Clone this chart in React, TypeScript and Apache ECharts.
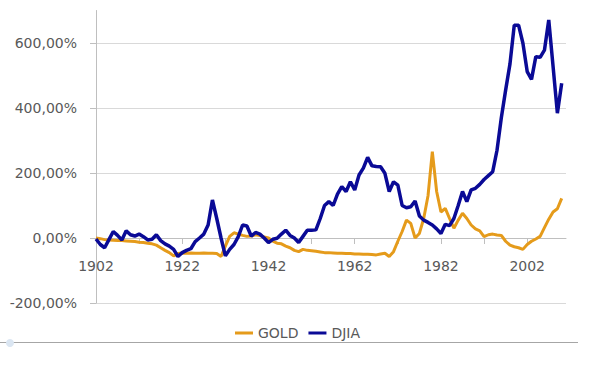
import React, { useEffect, useRef } from 'react';
import * as echarts from 'echarts';

// Categories 1902..2011
const years: string[] = [];
for (let y = 1902; y <= 2011; y++) years.push(String(y));

// GOLD, % change (1902..2010)
const gold: number[] = [
  0, -2, -5, -6, -7, -8, -8, -9, // 1902-1909
  -10, -11, -13, -14, -16, -18, -22, -30, -38, -45, // 1910-1919
  -55, -48, -46, -47, -46, -47, -47, -46, -47, -47, // 1920-1929
  -48, -57, -25, 5, 16, 12, 8, 5, 6, 10, // 1930-1939
  8, 3, 0, -10, -16, -18, -25, -30, -38, -42, // 1940-1949
  -35, -38, -39, -41, -43, -45, -45, -46, -47, -47, // 1950-1959
  -48, -48, -49, -49, -50, -50, -51, -52, -49, -47, // 1960-1969
  -57, -42, -10, 20, 55, 45, 0, 14, 60, 130, // 1970-1979
  266, 143, 80, 91, 60, 30, 55, 76, 60, 40, // 1980-1989
  28, 22, 4, 10, 12, 9, 8, -10, -22, -27, // 1990-1999
  -30, -35, -20, -10, -3, 5, 32, 58, 80, 90, // 2000-2009
  122, // 2010
];

// DJIA, % change (1902..2010)
const djia: number[] = [
  -3, -20, -30, -5, 20, 8, -6, 22, // 1902-1909
  10, 6, 12, 4, -6, -4, 10, -8, -18, -25, // 1910-1919
  -35, -57, -45, -38, -33, -11, 0, 12, 40, 117, // 1920-1929
  60, 0, -55, -35, -20, 4, 40, 37, 6, 17, // 1930-1939
  12, 0, -14, -4, -1, 12, 24, 8, 0, -14, // 1940-1949
  5, 24, 24, 25, 60, 100, 112, 100, 135, 158, // 1950-1959
  143, 173, 148, 194, 215, 248, 222, 220, 219, 199, // 1960-1969
  143, 173, 163, 100, 93, 96, 114, 68, 55, 48, // 1970-1979
  40, 28, 14, 42, 38, 60, 100, 143, 112, 148, // 1980-1989
  153, 165, 180, 192, 204, 270, 370, 455, 535, 655, // 1990-1999
  655, 600, 512, 488, 558, 556, 578, 671, 528, 384, // 2000-2009
  476, // 2010
];

const seriesNames = ['GOLD', 'DJIA'];
const seriesColors = ['#E59B1B', '#0A0A96'];

export default function App() {
  const ref = useRef<HTMLDivElement>(null);
  useEffect(() => {
    if (!ref.current) return;
    const chart = echarts.init(ref.current, null, { renderer: 'svg' });
    const font = 'DejaVu Sans';
    const txt = '#595959';
    chart.setOption({
      animation: false,
      backgroundColor: '#ffffff',
      grid: [
        // data grid: -200..700
        { left: 96, right: 29, top: 10.5, bottom: 81 },
        // gridline / y-label grid: -200..600
        { left: 96, right: 29, top: 43, bottom: 81 },
        // x-axis grid whose bottom sits on the 0 line
        { left: 96, right: 29, top: 10.5, bottom: 146 },
      ],
      xAxis: [
        { type: 'category', gridIndex: 0, data: years, boundaryGap: false, show: false },
        { type: 'category', gridIndex: 1, data: years, boundaryGap: false, show: false },
        {
          type: 'category',
          gridIndex: 2,
          data: years,
          boundaryGap: false,
          position: 'bottom',
          axisLine: { show: true, onZero: false, lineStyle: { color: '#bfbfbf', width: 1 } },
          axisTick: { show: true, interval: 9, length: 6, lineStyle: { color: '#bfbfbf' } },
          axisLabel: { show: true, interval: 19, margin: 21, color: txt, fontFamily: font, fontSize: 14 },
          splitLine: { show: false },
        },
      ],
      yAxis: [
        {
          type: 'value',
          gridIndex: 0,
          min: -200,
          max: 700,
          axisLine: { show: true, onZero: false, lineStyle: { color: '#bfbfbf' } },
          axisTick: { show: false },
          axisLabel: { show: false },
          splitLine: { show: false },
        },
        {
          type: 'value',
          gridIndex: 1,
          min: -200,
          max: 600,
          interval: 200,
          axisLine: { show: false },
          axisTick: { show: true, length: 6, lineStyle: { color: '#bfbfbf' } },
          axisLabel: {
            margin: 19,
            color: txt,
            fontFamily: font,
            fontSize: 14,
            formatter: (v: number) => v.toFixed(2).replace('.', ',') + '%',
          },
          splitLine: { lineStyle: { color: '#d9d9d9', width: 1 } },
        },
        { type: 'value', gridIndex: 2, min: 0, max: 1, show: false },
      ],
      legend: {
        data: seriesNames,
        left: 230,
        top: 321,
        icon: 'rect',
        itemWidth: 18,
        itemHeight: 3,
        itemGap: 10,
        textStyle: { color: txt, fontFamily: font, fontSize: 14 },
      },
      graphic: [
        { type: 'line', shape: { x1: 0, y1: 342.5, x2: 578, y2: 342.5 }, style: { stroke: '#a6a6a6', lineWidth: 1 } },
        { type: 'circle', shape: { cx: 10, cy: 343, r: 4 }, style: { fill: '#dbe6f2' } },
      ],
      series: [
        {
          name: seriesNames[0],
          type: 'line',
          xAxisIndex: 0,
          yAxisIndex: 0,
          data: gold,
          symbol: 'none',
          color: seriesColors[0],
          lineStyle: { width: 3, color: seriesColors[0] },
        },
        {
          name: seriesNames[1],
          type: 'line',
          xAxisIndex: 0,
          yAxisIndex: 0,
          data: djia,
          symbol: 'none',
          color: seriesColors[1],
          lineStyle: { width: 3.5, color: seriesColors[1] },
        },
      ],
    });
    return () => chart.dispose();
  }, []);
  return (
    <div
      ref={ref}
      style={{ position: 'fixed', left: 0, top: 0, width: 595, height: 384 }}
    />
  );
}
